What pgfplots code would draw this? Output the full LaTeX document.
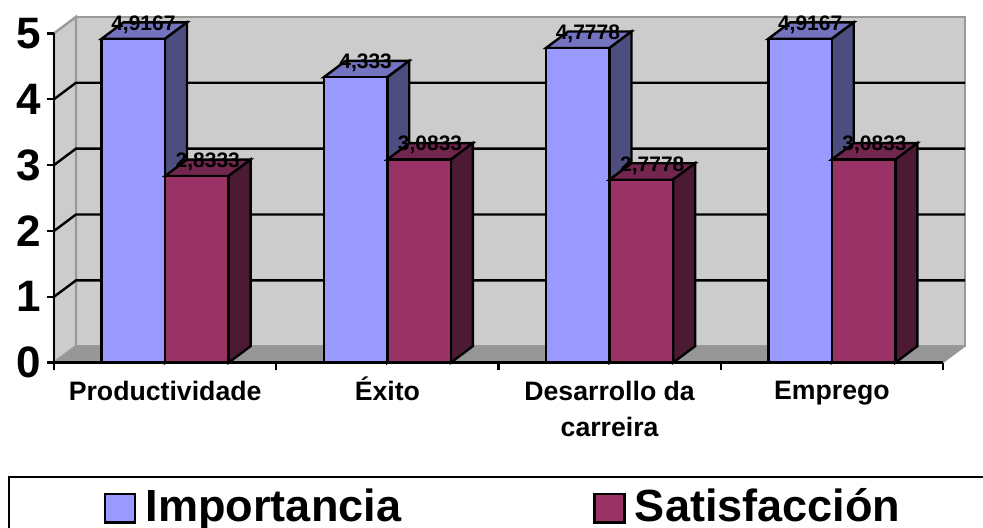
\documentclass[border=0pt]{standalone}
\usepackage{fontspec}
\setmainfont{Liberation Sans}
\usepackage{pgfplots}
\pgfplotsset{compat=1.18}
\definecolor{barblue}{HTML}{9999FF}
\definecolor{bartopblue}{HTML}{7373BF}
\definecolor{barsideblue}{HTML}{4D4D80}
\definecolor{barred}{HTML}{993366}
\definecolor{bartopred}{HTML}{73264D}
\definecolor{barsidered}{HTML}{4D1A33}
\definecolor{wallgray}{HTML}{CCCCCC}
\definecolor{floorgray}{HTML}{969696}
\definecolor{edgegray}{HTML}{999999}

% depth of the 3d look, in data units
\newcommand{\dx}{0.099}
\newcommand{\dy}{0.25}
% top and side face of one bar: left edge, value, colours
\newcommand{\barfaces}[4]{%
  \pgfmathsetmacro{\xr}{#1+0.2858}
  \pgfmathsetmacro{\xlb}{#1+\dx}
  \pgfmathsetmacro{\xrb}{\xr+\dx}
  \pgfmathsetmacro{\vb}{#2+\dy}
  \addplot[forget plot,fill=#3,draw=black,line width=1.8pt] coordinates {(#1,#2) (\xlb,\vb) (\xrb,\vb) (\xr,#2)} --cycle;
  \addplot[forget plot,fill=#4,draw=black,line width=1.8pt] coordinates {(\xr,#2) (\xrb,\vb) (\xrb,\dy) (\xr,0)} --cycle;
}

\begin{document}
\begin{tikzpicture}[x=1pt,y=1pt]
  \useasboundingbox (0,0) rectangle (737.25,396);
  \begin{axis}[
    at={(40.5pt,124pt)},
    anchor=south west,
    scale only axis,
    width=666.75pt,
    height=247pt,
    xmin=0, xmax=4,
    ymin=0, ymax=5,
    clip=false,
    axis lines*=left,
    axis line style={-,black,line width=1.8pt},
    axis on top,
    tick align=outside,
    ytick={0,1,2,3,4,5},
    ytick style={black,line width=1.8pt},
    major tick length=5.5pt,
    minor tick length=5.5pt,
    xtick={0.5,1.5,2.5,3.5},
    minor xtick={0,1,2,3,4},
    xtick style={draw=none},
    minor x tick style={draw=black,line width=1.8pt},
    xticklabels={Productividade,\vphantom{d}\smash{Éxito},{Desarrollo da\\carreira},Emprego},
    xticklabel style={align=center,font=\fontsize{20}{27}\selectfont\bfseries,yshift=-5pt},
    /pgf/number format/assume math mode=true,
    yticklabel style={font=\fontsize{33}{33}\selectfont\bfseries,xshift=-1pt},
    legend columns=2,
    legend cell align=left,
    legend style={
      at={(axis description cs:-0.0517,-0.344)},
      anchor=north west,
      draw=black,
      line width=1.8pt,
      minimum width=741.5pt,
      minimum height=43.5pt,
      font=\fontsize{33.8}{33.8}\selectfont\bfseries,
      nodes={minimum width=0pt,minimum height=0pt},
      /tikz/column 1/.style={column sep=5pt},
      /tikz/column 2/.style={column sep=142pt},
      /tikz/column 3/.style={column sep=5pt},
    },
  ]
    % back wall, left wall, floor
    \addplot[forget plot,fill=wallgray,draw=edgegray,line width=1.8pt] coordinates {(0.099,0.25) (4.099,0.25) (4.099,5.25) (0.099,5.25)} --cycle;
    \addplot[forget plot,fill=wallgray,draw=edgegray,line width=1.8pt] coordinates {(0,0) (0.099,0.25) (0.099,5.25) (0,5)} --cycle;
    \addplot[forget plot,fill=floorgray,draw=edgegray,line width=0.8pt] coordinates {(0,0) (0.099,0.25) (4.099,0.25) (4,0)} --cycle;
    % grid lines
    \addplot[forget plot,black,line width=1.8pt] coordinates {(0,1) (0.099,1.25) (4.099,1.25)};
    \addplot[forget plot,black,line width=1.8pt] coordinates {(0,2) (0.099,2.25) (4.099,2.25)};
    \addplot[forget plot,black,line width=1.8pt] coordinates {(0,3) (0.099,3.25) (4.099,3.25)};
    \addplot[forget plot,black,line width=1.8pt] coordinates {(0,4) (0.099,4.25) (4.099,4.25)};

    \barfaces{0.2138}{4.9167}{bartopblue}{barsideblue}
    \barfaces{1.2138}{4.333}{bartopblue}{barsideblue}
    \barfaces{2.2138}{4.7778}{bartopblue}{barsideblue}
    \barfaces{3.2138}{4.9167}{bartopblue}{barsideblue}
    \addplot[ybar,bar width=47.6pt,bar shift=-23.8pt,fill=barblue,draw=black,line width=1.8pt,
      point meta=explicit symbolic,
      nodes near coords,
      nodes near coords style={anchor=base,inner sep=0pt,xshift=-16.3pt,yshift=6.5pt,font=\fontsize{15.75}{16}\selectfont\bfseries,text=black},
      legend image code/.code={\draw[fill=barblue,draw=black,line width=1.8pt] (0pt,-12.25pt) rectangle (22.5pt,9.25pt);},
    ] coordinates {(0.5,4.9167)[4,9167] (1.5,4.333)[4,333] (2.5,4.7778)[4,7778] (3.5,4.9167)[4,9167]};
    \addlegendentry{Importancia}

    \barfaces{0.4996}{2.8333}{bartopred}{barsidered}
    \barfaces{1.4996}{3.0833}{bartopred}{barsidered}
    \barfaces{2.4996}{2.7778}{bartopred}{barsidered}
    \barfaces{3.4996}{3.0833}{bartopred}{barsidered}
    \addplot[ybar,bar width=47.6pt,bar shift=23.8pt,fill=barred,draw=black,line width=1.8pt,
      point meta=explicit symbolic,
      nodes near coords,
      nodes near coords style={anchor=base,inner sep=0pt,xshift=32pt,yshift=6.5pt,font=\fontsize{15.75}{16}\selectfont\bfseries,text=black},
      legend image code/.code={\draw[fill=barred,draw=black,line width=1.8pt] (0pt,-12.25pt) rectangle (22.5pt,9.25pt);},
    ] coordinates {(0.5,2.8333)[2,8333] (1.5,3.0833)[3,0833] (2.5,2.7778)[2,7778] (3.5,3.0833)[3,0833]};
    \addlegendentry{Satisfacción}
  \end{axis}
\end{tikzpicture}
\end{document}
